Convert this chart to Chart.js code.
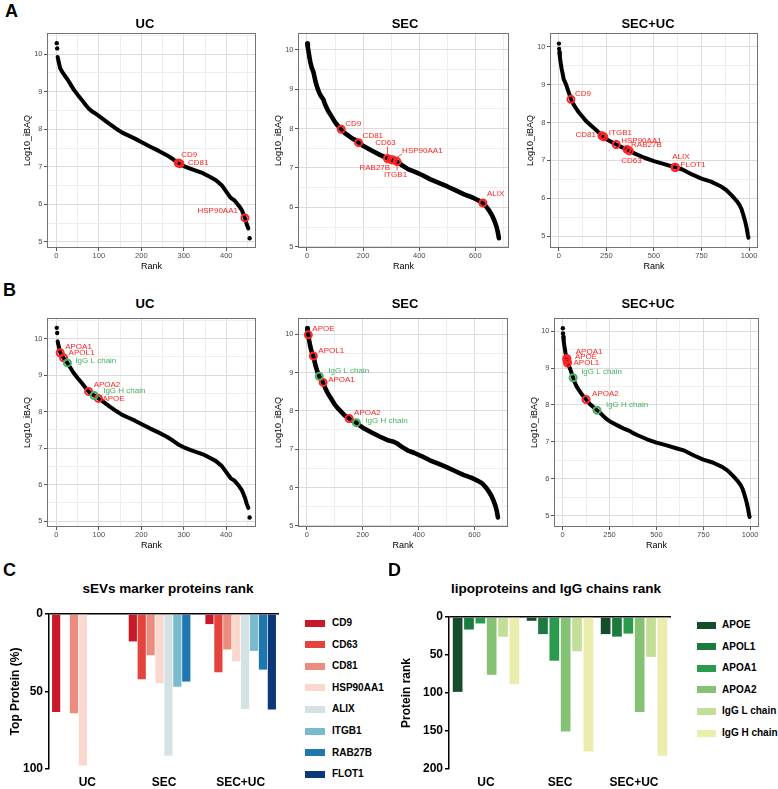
<!DOCTYPE html>
<html>
<head>
<meta charset="utf-8">
<script src="https://cdn.jsdelivr.net/npm/chart.js@4.4.1/dist/chart.umd.min.js"></script>
<style>
body { margin: 0; background: #fff; }
#page { position: relative; width: 778px; height: 789px; overflow: hidden; font-family: "Liberation Sans", Arial, sans-serif; }
canvas { position: absolute; }
.txt { position: absolute; white-space: nowrap; line-height: 1; color: #000; }
</style>
</head>
<body>
<div id="page"></div>
<script>
// ---- rank curves (same curves in A and B) ----
var rankUC = [3,5,7,9,12,17,22,26,32,40,50,60,70,76,82,89,99,110,125,140,155,170,185,200,220,240,260,275,287,300,315,330,345,360,375,390,400,410,420,430,437,444,448,452];
var iBAQUC = [9.92,9.82,9.72,9.62,9.56,9.47,9.39,9.33,9.22,9.07,8.92,8.78,8.63,8.55,8.49,8.44,8.36,8.27,8.14,8.02,7.91,7.83,7.75,7.66,7.54,7.43,7.31,7.2,7.1,7.02,6.95,6.89,6.83,6.74,6.65,6.5,6.34,6.18,6.1,5.96,5.84,5.64,5.48,5.36];
var loneRankUC = [1, 2, 455];
var loneIBAQUC = [10.29, 10.15, 5.1];

var rankSEC = [1,3,5,8,12,17,23,30,37,44,50,58,65,75,88,100,110,122,135,151,165,177,184,200,230,260,287,300,307,321,340,360,385,410,440,470,500,530,560,590,610,627,640,650,660,668,675,680,684];
var iBAQSEC = [10.15,10.05,9.98,9.83,9.68,9.54,9.43,9.2,9.03,8.9,8.82,8.74,8.6,8.45,8.3,8.16,8.07,7.98,7.88,7.8,7.73,7.69,7.64,7.56,7.44,7.33,7.24,7.21,7.2,7.16,7.06,6.97,6.9,6.82,6.71,6.62,6.53,6.43,6.33,6.25,6.18,6.11,6.01,5.91,5.79,5.66,5.52,5.38,5.22];
var loneRankSEC = [];
var loneIBAQSEC = [];

var rankSECUC = [3,6,10,15,22,26,30,40,50,56,64,75,90,105,125,145,165,183,205,227,237,260,302,330,359,371,400,450,500,550,610,650,700,750,800,850,880,910,935,950,960,970,980,988,993,997];
var iBAQSECUC = [9.85,9.72,9.58,9.42,9.25,9.14,9.1,8.98,8.83,8.74,8.62,8.5,8.38,8.27,8.15,8.03,7.94,7.86,7.76,7.65,7.61,7.53,7.42,7.35,7.29,7.25,7.18,7.07,6.98,6.91,6.82,6.76,6.63,6.52,6.44,6.32,6.22,6.07,5.93,5.82,5.72,5.56,5.38,5.2,5.05,4.96];
var loneRankSECUC = [1, 2];
var loneIBAQSECUC = [10.08, 9.94];

// ---- highlighted proteins, panel A (sEV markers) ----
var markA_UC = ["CD9", "CD81", "HSP90AA1"];
var markA_UC_rank = [287, 291, 444];
var markA_UC_val = [7.1, 7.08, 5.64];

var markA_SEC = ["CD9", "CD81", "CD63", "RAB27B", "HSP90AA1", "ITGB1", "ALIX"];
var markA_SEC_rank = [122, 184, 287, 300, 307, 321, 627];
var markA_SEC_val = [7.98, 7.64, 7.24, 7.21, 7.2, 7.16, 6.11];

var markA_SECUC = ["CD9", "CD81", "ITGB1", "HSP90AA1", "RAB27B", "CD63", "ALIX", "FLOT1"];
var markA_SECUC_rank = [64, 227, 237, 302, 359, 371, 610, 614];
var markA_SECUC_val = [8.61, 7.65, 7.62, 7.42, 7.29, 7.25, 6.82, 6.81];

// ---- highlighted proteins, panel B (lipoproteins red, IgG green) ----
var lipoB_UC = ["APOA1", "APOL1", "APOA2", "APOE"];
var lipoB_UC_rank = [9, 17, 76, 99];
var lipoB_UC_val = [9.61, 9.47, 8.55, 8.36];
var iggB_UC = ["IgG L chain", "IgG H chain"];
var iggB_UC_rank = [26, 89];
var iggB_UC_val = [9.33, 8.44];

var lipoB_SEC = ["APOE", "APOL1", "APOA1", "APOA2"];
var lipoB_SEC_rank = [5, 23, 58, 151];
var lipoB_SEC_val = [9.98, 9.43, 8.74, 7.8];
var iggB_SEC = ["IgG L chain", "IgG H chain"];
var iggB_SEC_rank = [44, 177];
var iggB_SEC_val = [8.9, 7.69];

var lipoB_SECUC = ["APOA1", "APOE", "APOL1", "APOA2"];
var lipoB_SECUC_rank = [22, 23, 26, 125];
var lipoB_SECUC_val = [9.26, 9.21, 9.14, 8.15];
var iggB_SECUC = ["IgG L chain", "IgG H chain"];
var iggB_SECUC_rank = [56, 183];
var iggB_SECUC_val = [8.74, 7.86];

// ---- tick labels ----
var yTicksRank = [5, 6, 7, 8, 9, 10];
var xTicksUC = [0, 100, 200, 300, 400];
var xTicksSEC = [0, 200, 400, 600];
var xTicksSECUC = [0, 250, 500, 750, 1000];

// ---- panel C: sEV marker rank (top protein %) ----
var groups = ["UC", "SEC", "SEC+UC"];
var sevNames = ["CD9", "CD63", "CD81", "HSP90AA1", "ALIX", "ITGB1", "RAB27B", "FLOT1"];
var pctCD9 = [63.3, 17.7, 6.5];
var pctCD63 = [null, 42.1, 37.6];
var pctCD81 = [64.1, 26.6, 22.9];
var pctHSP90AA1 = [97.8, 44.7, 30.5];
var pctALIX = [null, 91.4, 61.3];
var pctITGB1 = [null, 46.9, 23.8];
var pctRAB27B = [null, 43.6, 35.9];
var pctFLOT1 = [null, null, 61.6];
var pctTicks = [0, 50, 100];

// ---- panel D: lipoproteins and IgG chains rank ----
var lipoNames = ["APOE", "APOL1", "APOA1", "APOA2", "IgG L chain", "IgG H chain"];
var rankAPOE = [98.5, 5, 22.5];
var rankAPOL1 = [16.5, 22.5, 25.8];
var rankAPOA1 = [8.5, 57.5, 21.8];
var rankAPOA2 = [76, 150.5, 125];
var rankIgGL = [26, 45, 52.5];
var rankIgGH = [88.5, 177, 182.5];
var lipoTicks = [0, 50, 100, 150, 200];

// ---- styles ----
var RED = "#ff2323";
var GREEN = "#46b060";
var sevColors = ["#c8192a", "#e5433d", "#ec8c7e", "#fbd8cd", "#d4e2e6", "#7abacd", "#1e78af", "#0c3778"];
var lipoColors = ["#134d2a", "#1b7a3e", "#2a9a4d", "#86c274", "#c3de97", "#eaedab"];
var FONT = '"Liberation Sans", Arial, sans-serif';

// label offsets (px from the point): [dx, dy, align, leader line]
var labelPos = {
    A_UC: { CD9: [3, -8], CD81: [8, -1], HSP90AA1: [-7, -7, "right"] },
    A_SEC: {
        CD9: [4, -5.5], CD81: [4, -6.5],
        CD63: [-2, -16, "center", [0, -12, 0, -3]],
        HSP90AA1: [9, -9, "left", [1, -1, 9, -6]],
        RAB27B: [-1, 8, "right", [-1, 1, -5, 4]],
        ITGB1: [-1.5, 13, "center", [0, 1, 0, 9]],
        ALIX: [4, -9.5]
    },
    A_SECUC: {
        CD9: [4, -6], CD81: [-6, -1, "right"], ITGB1: [5, -4], HSP90AA1: [5, -4],
        RAB27B: [4, -4.5], CD63: [2, 10, "center"], ALIX: [6, -10.5, "center"], FLOT1: [5, -3]
    },
    B_UC: { APOA1: [5, -5.7], APOL1: [5, -4.7], "IgG L chain": [8, -2.3], APOA2: [5, -7], "IgG H chain": [9, -4.7], APOE: [4, 0] },
    B_SEC: { APOE: [4, -6], APOL1: [5, -5], "IgG L chain": [9, -5], APOA1: [5, -3], APOA2: [5, -6], "IgG H chain": [9, -2] },
    B_SECUC: { APOA1: [9, -7], APOE: [8, -4], APOL1: [6, 0], "IgG L chain": [8, -6], APOA2: [6, -6], "IgG H chain": [9, -5.5] }
};

Chart.defaults.font.family = FONT;
Chart.defaults.animation = false;
Chart.defaults.plugins.legend.display = false;
Chart.defaults.plugins.tooltip.enabled = false;

var page = document.getElementById("page");

function zip(xs, ys) {
    return xs.map(function (x, i) { return { x: x, y: ys[i] }; });
}

function addText(txt, x, y, size, bold, center, color) {
    var d = document.createElement("div");
    d.className = "txt";
    d.textContent = txt;
    d.style.left = x + "px";
    d.style.top = y + "px";
    d.style.fontSize = size + "px";
    d.style.fontWeight = bold ? "bold" : "normal";
    d.style.transform = "translate(" + (center ? "-50%" : "0") + ",-50%)";
    if (color) d.style.color = color;
    page.appendChild(d);
    return d;
}

function addCanvas(left, top, w, h) {
    var cv = document.createElement("canvas");
    cv.width = w;
    cv.height = h;
    cv.style.left = left + "px";
    cv.style.top = top + "px";
    cv.style.width = w + "px";
    cv.style.height = h + "px";
    page.appendChild(cv);
    return cv;
}

var boxPlugin = {
    id: "panelBox",
    afterDraw: function (chart) {
        var o = chart.options.plugins.panelBox;
        if (!o || !o.show) return;
        var a = chart.chartArea, c = chart.ctx;
        c.save();
        c.strokeStyle = "#737373";
        c.lineWidth = 1;
        c.strokeRect(Math.round(a.left) + 0.5, Math.round(a.top) + 0.5,
            Math.round(a.right - a.left) - 1, Math.round(a.bottom - a.top) - 1);
        c.restore();
    }
};

var labelPlugin = {
    id: "markLabels",
    afterDraw: function (chart) {
        var o = chart.options.plugins.markLabels;
        if (!o || !o.items) return;
        var c = chart.ctx;
        c.save();
        c.font = "8px " + FONT;
        c.textBaseline = "middle";
        o.items.forEach(function (it) {
            var el = chart.getDatasetMeta(it.ds).data[it.i];
            if (!el) return;
            var px = el.x, py = el.y;
            c.fillStyle = it.color;
            c.strokeStyle = it.color;
            c.lineWidth = 0.8;
            if (it.line) {
                c.beginPath();
                c.moveTo(px + it.line[0], py + it.line[1]);
                c.lineTo(px + it.line[2], py + it.line[3]);
                c.stroke();
            }
            c.textAlign = it.align || "left";
            c.fillText(it.text, px + it.dx, py + it.dy);
        });
        c.restore();
    }
};

function isIn(list, v) {
    return list.some(function (m) { return Math.abs(m - v) < 1e-9; });
}

function withMinor(majors, min, max) {
    var step = majors[1] - majors[0];
    var out = [];
    for (var v = majors[0] - step; v <= max + 1e-9; v += step / 2) {
        if (v >= min - 1e-9) out.push(v);
    }
    return out;
}

function rankPlot(p) {
    var L = p.box[0], T = p.box[1], R = p.box[2], B = p.box[3];
    var left = L - 46, top = T - 6;
    var cv = addCanvas(left, top, R + 4 - left, B + 24 - top);

    var datasets = [
        { data: zip(p.rank, p.val), showLine: true, borderColor: "#000", borderWidth: p.lw,
          pointRadius: 0, borderCapStyle: "round", borderJoinStyle: "round", order: 5 },
        { data: zip(p.loneRank, p.loneVal), pointRadius: 2.2, backgroundColor: "#000", borderWidth: 0, order: 4 }
    ];
    var items = [];
    p.marks.forEach(function (m) {
        var ds = datasets.length;
        datasets.push({ data: zip(m.rank, m.val), pointRadius: 3.5, borderColor: m.color, borderWidth: 2,
                        backgroundColor: "rgba(0,0,0,0)", order: 1 });
        m.names.forEach(function (n, i) {
            var o = p.labels[n] || [4, -5];
            items.push({ ds: ds, i: i, text: n, color: m.color, dx: o[0], dy: o[1], align: o[2], line: o[3] });
        });
    });

    var xAll = withMinor(p.xt, p.xr[0], p.xr[1]);
    var yAll = withMinor(yTicksRank, p.yr[0], p.yr[1]);

    new Chart(cv, {
        type: "scatter",
        data: { datasets: datasets },
        options: {
            responsive: false,
            layout: { padding: { top: 6, right: 4, left: 0, bottom: 0 } },
            plugins: { panelBox: { show: true }, markLabels: { items: items } },
            scales: {
                x: {
                    type: "linear", min: p.xr[0], max: p.xr[1],
                    afterBuildTicks: function (s) { s.ticks = xAll.map(function (v) { return { value: v }; }); },
                    afterFit: function (s) { s.height = 24; },
                    ticks: {
                        autoSkip: false, maxRotation: 0, padding: 0.5, color: "#4d4d4d", font: { size: 7.5 },
                        callback: function (v) { return isIn(p.xt, v) ? String(v) : ""; }
                    },
                    grid: {
                        color: function (c) { return c.tick && isIn(p.xt, c.tick.value) ? "#dcdcdc" : "#eeeeee"; },
                        tickLength: 3,
                        tickColor: function (c) { return c.tick && isIn(p.xt, c.tick.value) ? "#555" : "rgba(0,0,0,0)"; }
                    },
                    border: { display: false },
                    title: { display: true, text: "Rank", color: "#000", font: { size: 9 }, padding: { top: 0, bottom: 0 } }
                },
                y: {
                    type: "linear", min: p.yr[0], max: p.yr[1],
                    afterBuildTicks: function (s) { s.ticks = yAll.map(function (v) { return { value: v }; }); },
                    afterFit: function (s) { s.width = 46; },
                    ticks: {
                        autoSkip: false, padding: 1.5, color: "#4d4d4d", font: { size: 7.5 },
                        callback: function (v) { return isIn(yTicksRank, v) ? String(v) : ""; }
                    },
                    grid: {
                        color: function (c) { return c.tick && isIn(yTicksRank, c.tick.value) ? "#dcdcdc" : "#eeeeee"; },
                        tickLength: 3,
                        tickColor: function (c) { return c.tick && isIn(yTicksRank, c.tick.value) ? "#555" : "rgba(0,0,0,0)"; }
                    },
                    border: { display: false },
                    title: { display: true, text: "Log10_iBAQ", color: "#000", font: { size: 9 }, padding: { top: 21.5, bottom: 0 } }
                }
            }
        },
        plugins: [boxPlugin, labelPlugin]
    });
}

var curves = {
    UC: { rank: rankUC, val: iBAQUC, loneRank: loneRankUC, loneVal: loneIBAQUC, xr: [-22, 470], yr: [4.84, 10.56], xt: xTicksUC },
    SEC: { rank: rankSEC, val: iBAQSEC, loneRank: loneRankSEC, loneVal: loneIBAQSEC, xr: [-32, 720], yr: [4.97, 10.42], xt: xTicksSEC },
    SECUC: { rank: rankSECUC, val: iBAQSECUC, loneRank: loneRankSECUC, loneVal: loneIBAQSECUC, xr: [-46, 1047], yr: [4.69, 10.36], xt: xTicksSECUC }
};

function panel(curveKey, box, marks, labels, lw) {
    var c = curves[curveKey];
    rankPlot({ box: box, rank: c.rank, val: c.val, loneRank: c.loneRank, loneVal: c.loneVal,
               xr: c.xr, yr: c.yr, xt: c.xt, marks: marks, labels: labels, lw: lw });
}

// panel A
panel("UC", [47, 33, 258, 248], [{ names: markA_UC, rank: markA_UC_rank, val: markA_UC_val, color: RED }], labelPos.A_UC, 4);
panel("SEC", [298, 33, 511, 248], [{ names: markA_SEC, rank: markA_SEC_rank, val: markA_SEC_val, color: RED }], labelPos.A_SEC, 4.6);
panel("SECUC", [550, 33, 760, 248], [{ names: markA_SECUC, rank: markA_SECUC_rank, val: markA_SECUC_val, color: RED }], labelPos.A_SECUC, 4);

// panel B
panel("UC", [47, 318, 258, 527], [
    { names: iggB_UC, rank: iggB_UC_rank, val: iggB_UC_val, color: GREEN },
    { names: lipoB_UC, rank: lipoB_UC_rank, val: lipoB_UC_val, color: RED }], labelPos.B_UC, 4);
panel("SEC", [298, 318, 510, 527], [
    { names: iggB_SEC, rank: iggB_SEC_rank, val: iggB_SEC_val, color: GREEN },
    { names: lipoB_SEC, rank: lipoB_SEC_rank, val: lipoB_SEC_val, color: RED }], labelPos.B_SEC, 4.6);
panel("SECUC", [554, 318, 761, 527], [
    { names: iggB_SECUC, rank: iggB_SECUC_rank, val: iggB_SECUC_val, color: GREEN },
    { names: lipoB_SECUC, rank: lipoB_SECUC_rank, val: lipoB_SECUC_val, color: RED }], labelPos.B_SECUC, 4);

// bar charts (C, D), y axis reversed so the bars hang from 0
function rankBars(p) {
    var cv = addCanvas(p.left, p.top, p.w, p.h);
    new Chart(cv, {
        type: "bar",
        data: {
            labels: groups,
            datasets: p.names.map(function (n, i) {
                return { label: n, data: p.series[i], backgroundColor: p.colors[i], borderWidth: 0,
                         categoryPercentage: p.catPct, barPercentage: p.barPct };
            })
        },
        options: {
            responsive: false,
            layout: { padding: { top: p.padTop, right: p.padRight, left: 0, bottom: 0 } },
            scales: {
                x: {
                    grid: { display: false, drawTicks: false },
                    border: { display: false },
                    ticks: { color: "#000", font: { size: 12, weight: "bold" }, padding: 6 },
                    afterFit: function (s) { s.height = 20; }
                },
                y: {
                    reverse: true, min: 0, max: p.yMax,
                    afterBuildTicks: function (s) { s.ticks = p.ticks.map(function (v) { return { value: v }; }); },
                    afterFit: function (s) { s.width = p.axisW; },
                    ticks: { color: "#000", font: { size: 12, weight: "bold" }, padding: 2 },
                    grid: {
                        color: function (c) { return c.tick && c.tick.value === 0 ? "#000" : "rgba(0,0,0,0)"; },
                        lineWidth: 1.5, tickLength: 4, tickColor: "#000", tickWidth: 1.5
                    },
                    border: { display: true, color: "#000", width: 1.5 },
                    title: { display: true, text: p.yTitle, color: "#000", font: { size: 12, weight: "bold" },
                             padding: { top: p.titlePad, bottom: 0 } }
                }
            }
        }
    });
    // legend
    p.names.forEach(function (n, i) {
        var cy = p.legTop + i * 21.6;
        var sq = document.createElement("div");
        sq.style.position = "absolute";
        sq.style.left = p.legX + "px";
        sq.style.top = (cy - 3.5) + "px";
        sq.style.width = p.legW + "px";
        sq.style.height = "7px";
        sq.style.background = p.colors[i];
        page.appendChild(sq);
        addText(n, p.legTextX, cy, 10, true, false);
    });
}

rankBars({
    left: 0, top: 600, w: 290, h: 189, padTop: 14, padRight: 11, axisW: 49, titlePad: 8,
    names: sevNames, colors: sevColors,
    series: [pctCD9, pctCD63, pctCD81, pctHSP90AA1, pctALIX, pctITGB1, pctRAB27B, pctFLOT1],
    yMax: 100, ticks: pctTicks, yTitle: "Top Protein (%)", catPct: 0.93, barPct: 0.92,
    legX: 305, legW: 20, legTextX: 332, legTop: 623
});
rankBars({
    left: 385, top: 600, w: 293, h: 189, padTop: 17, padRight: 7, axisW: 64, titlePad: 14.5,
    names: lipoNames, colors: lipoColors,
    series: [rankAPOE, rankAPOL1, rankAPOA1, rankAPOA2, rankIgGL, rankIgGH],
    yMax: 200, ticks: lipoTicks, yTitle: "Protein rank", catPct: 0.92, barPct: 0.855,
    legX: 697, legW: 19, legTextX: 722, legTop: 625
});

// panel letters and titles
addText("A", 5, 11, 18, true, false);
addText("B", 3, 290, 18, true, false);
addText("C", 3, 570, 18, true, false);
addText("D", 388, 570, 18, true, false);
addText("UC", 145, 23, 13, true, true);
addText("SEC", 405, 23, 13, true, true);
addText("SEC+UC", 648, 23, 13, true, true);
addText("UC", 145, 303, 13, true, true);
addText("SEC", 405, 303, 13, true, true);
addText("SEC+UC", 648, 303, 13, true, true);
addText("sEVs marker proteins rank", 168, 589, 13.5, true, true);
addText("lipoproteins and IgG chains rank", 556, 589, 13.5, true, true);
</script>
</body>
</html>
